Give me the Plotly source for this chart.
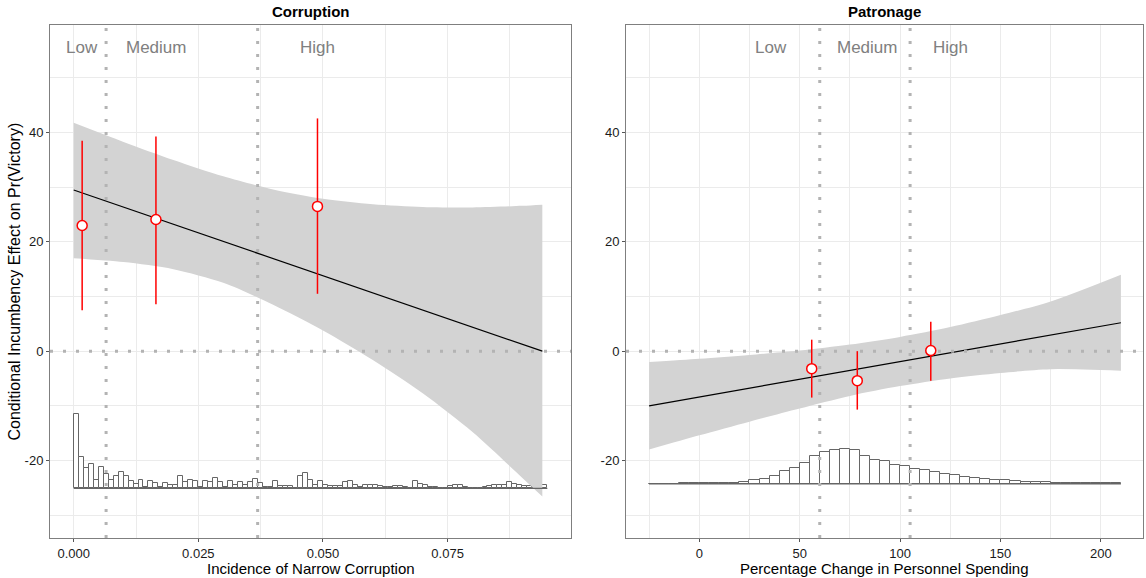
import plotly.graph_objects as go

# ---------------- data ----------------
# Left panel: Corruption
corr_line_x = [0.0, 0.094]
corr_line_y = [29.5, 0.0]
corr_band_x = [0.0, 0.01, 0.02, 0.03, 0.04, 0.05, 0.06, 0.07, 0.08, 0.09, 0.094]
corr_band_hi = [41.8, 38.3, 35.0, 32.0, 29.6, 27.9, 26.9, 26.4, 26.3, 26.6, 26.8]
corr_band_lo = [17.0, 16.3, 15.0, 12.5, 8.5, 3.8, -1.6, -7.7, -14.8, -23.2, -26.6]
corr_pts_x = [0.0017, 0.0165, 0.0489]
corr_pts_y = [23.0, 24.1, 26.5]
corr_pts_lo = [7.5, 8.6, 10.5]
corr_pts_hi = [38.5, 39.3, 42.6]
corr_cuts = [0.0065, 0.0369]
corr_labels = ["Low", "Medium", "High"]
corr_label_x = [0.0017, 0.0166, 0.049]
corr_hist_start = 0.0
corr_hist_width = 0.001
corr_hist_counts = [75, 31, 20, 24, 8, 21, 14, 8, 12, 16, 12, 7, 4, 8, 1, 7, 5, 1, 5, 3, 3, 12, 6, 8, 7, 1, 7, 6, 10, 6, 1, 7,
                    3,
                    6, 3, 6, 9, 5, 1, 1, 7, 2, 2, 2, 0, 12, 15, 8, 3, 7, 3, 2, 2, 2, 6, 7, 3, 1, 3, 3, 3, 2, 1, 1, 2,
                    2, 1, 0, 7, 4, 3, 1, 1, 0, 0, 2, 3, 3, 1, 0, 0, 0, 1, 2, 3, 3, 3, 6, 4, 3, 2, 2, 1, 2, 3]
corr_hist_base = -25.1

# Right panel: Patronage
pat_line_x = [-25, 210]
pat_line_y = [-10.0, 5.2]
pat_band_x = [-25, 0, 25, 50, 75, 100, 125, 150, 175, 210]
pat_band_hi = [-2.0, -1.4, -0.7, 0.1, 1.2, 2.6, 4.4, 6.6, 9.1, 14.0]
pat_band_lo = [-18.0, -15.4, -12.9, -10.5, -8.2, -6.4, -5.0, -4.0, -3.3, -3.6]
pat_pts_x = [56.0, 78.7, 115.3]
pat_pts_y = [-3.2, -5.4, 0.1]
pat_pts_lo = [-8.5, -10.7, -5.4]
pat_pts_hi = [2.1, 0.0, 5.4]
pat_cuts = [60.0, 105.0]
pat_labels = ["Low", "Medium", "High"]
pat_label_x = [35.6, 83.7, 125.0]
pat_hist_start = -25
pat_hist_width = 5
pat_hist_counts = [0.3, 0.3, 0.3, 0.5, 0.5, 0.7, 0.7, 1, 1, 1.7,
                   3.5, 4.5, 8, 12.5, 15.5, 21.3, 28.5, 32.2, 34.3, 35, 34, 28.5, 24.5, 23, 19.2, 17.8,
                   15.2, 13.8, 11.5, 10.2, 9.2, 7.2, 6.3, 5.3, 3.7, 3.7, 3, 2.3, 1.7, 2, 1.3, 1, 1.3, 1, 1,
                   0.7, 0.7]
pat_hist_base = -24.3

hist_scale = 20 / 109.7  # y-units per count

y_tick_vals = [-20, 0, 20, 40]
y_tick_text = ["-20", "0", "20", "40"]
corr_x_ticks = [0.0, 0.025, 0.05, 0.075]
corr_x_text = ["0.000", "0.025", "0.050", "0.075"]
pat_x_ticks = [0, 50, 100, 150, 200]

x_ranges = {"x": [-0.00475, 0.09975], "x2": [-36.5, 221.0]}
y_range = [-34.2, 59.7]

# ---------------- styles ----------------
FONT = "Liberation Sans, Arial, sans-serif"
BAND = "#d3d3d3"
DOT = "#b3b3b3"
RED = "#ff0000"
HIST_LINE = "#666666"
GRID = "#ebebeb"

fig = go.Figure()


def add_panel(xa, ya, line_x, line_y, band_x, hi, lo, px, py, plo, phi, cuts,
              hstart, hwidth, hcounts, hbase):
    # band (smooth edges)
    fig.add_trace(go.Scatter(x=band_x, y=lo, mode="lines", line=dict(width=0, shape="spline", smoothing=0.8),
                             xaxis=xa, yaxis=ya, hoverinfo="skip", showlegend=False))
    fig.add_trace(go.Scatter(x=band_x, y=hi, mode="lines", fill="tonexty", fillcolor=BAND,
                             line=dict(width=0, shape="spline", smoothing=0.8),
                             xaxis=xa, yaxis=ya, hoverinfo="skip", showlegend=False))
    # fitted line
    fig.add_trace(go.Scatter(x=line_x, y=line_y, mode="lines", line=dict(color="black", width=1.2),
                             xaxis=xa, yaxis=ya, showlegend=False))
    # histogram
    centers = [hstart + hwidth * (i + 0.5) for i in range(len(hcounts))]
    heights = [c * hist_scale for c in hcounts]
    fig.add_trace(go.Bar(x=centers, y=heights, base=hbase, width=hwidth,
                         marker=dict(color="white", line=dict(color=HIST_LINE, width=1)),
                         xaxis=xa, yaxis=ya, showlegend=False))
    edge_end = hstart + hwidth * len(hcounts)
    fig.add_trace(go.Scatter(x=[hstart, edge_end], y=[hbase, hbase], mode="lines",
                             line=dict(color=HIST_LINE, width=1.2),
                             xaxis=xa, yaxis=ya, showlegend=False))
    # dotted reference lines
    xr = x_ranges[xa]
    fig.add_trace(go.Scatter(x=xr, y=[0, 0], mode="lines",
                             line=dict(color=DOT, width=3, dash="3px,10px"),
                             xaxis=xa, yaxis=ya, showlegend=False))
    for c in cuts:
        fig.add_trace(go.Scatter(x=[c, c], y=y_range, mode="lines",
                                 line=dict(color=DOT, width=3, dash="3px,10px"),
                                 xaxis=xa, yaxis=ya, showlegend=False))
    # error bars
    for xv, l, h in zip(px, plo, phi):
        fig.add_trace(go.Scatter(x=[xv, xv], y=[l, h], mode="lines",
                                 line=dict(color=RED, width=1.5),
                                 xaxis=xa, yaxis=ya, showlegend=False))
    fig.add_trace(go.Scatter(x=px, y=py, mode="markers",
                             marker=dict(color="white", size=10, line=dict(color=RED, width=1.5)),
                             xaxis=xa, yaxis=ya, showlegend=False))


add_panel("x", "y", corr_line_x, corr_line_y, corr_band_x, corr_band_hi, corr_band_lo,
          corr_pts_x, corr_pts_y, corr_pts_lo, corr_pts_hi, corr_cuts,
          corr_hist_start, corr_hist_width, corr_hist_counts, corr_hist_base)
add_panel("x2", "y2", pat_line_x, pat_line_y, pat_band_x, pat_band_hi, pat_band_lo,
          pat_pts_x, pat_pts_y, pat_pts_lo, pat_pts_hi, pat_cuts,
          pat_hist_start, pat_hist_width, pat_hist_counts, pat_hist_base)

W, H = 1146, 578
left_dom = [50 / W, 571 / W]
right_dom = [626 / W, 1143 / W]
y_dom = [1 - 538 / H, 1 - 25 / H]

axis_common = dict(showline=True, mirror=True, linecolor="#7f7f7f", linewidth=1,
                   ticks="outside", ticklen=3, tickcolor="#555555", tickwidth=1,
                   showgrid=True, gridcolor=GRID, gridwidth=1.1, zeroline=False,
                   tickfont=dict(family=FONT, size=13, color="#1a1a1a"))

fig.update_layout(
    width=W, height=H, margin=dict(l=0, r=0, t=0, b=0),
    paper_bgcolor="white", plot_bgcolor="white", barmode="overlay", bargap=0,
    font=dict(family=FONT),
    xaxis=dict(domain=left_dom, range=x_ranges["x"], tickvals=corr_x_ticks, ticktext=corr_x_text,
               minor=dict(dtick=0.0125, tick0=0, showgrid=True, gridcolor=GRID, gridwidth=0.6, ticks=""),
               anchor="y", **axis_common),
    yaxis=dict(domain=y_dom, range=y_range, tickvals=y_tick_vals, ticktext=y_tick_text,
               minor=dict(dtick=10, tick0=-30, showgrid=True, gridcolor=GRID, gridwidth=0.6, ticks=""),
               anchor="x", **axis_common),
    xaxis2=dict(domain=right_dom, range=x_ranges["x2"], tickvals=pat_x_ticks,
                minor=dict(dtick=25, tick0=0, showgrid=True, gridcolor=GRID, gridwidth=0.6, ticks=""),
                anchor="y2", **axis_common),
    yaxis2=dict(domain=y_dom, range=y_range, tickvals=y_tick_vals, ticktext=y_tick_text,
                minor=dict(dtick=10, tick0=-30, showgrid=True, gridcolor=GRID, gridwidth=0.6, ticks=""),
                anchor="x2", **axis_common),
)

annotations = []
for xa, ya, labels, lx in [("x", "y", corr_labels, corr_label_x), ("x2", "y2", pat_labels, pat_label_x)]:
    for t, xv in zip(labels, lx):
        annotations.append(dict(x=xv, y=55.5, xref=xa, yref=ya, text=t, showarrow=False,
                                font=dict(family=FONT, size=17, color="#808080")))

titles = [("<b>Corruption</b>", left_dom), ("<b>Patronage</b>", right_dom)]
for t, dom in titles:
    annotations.append(dict(x=(dom[0] + dom[1]) / 2, y=1 - 12 / H, xref="paper", yref="paper",
                            xanchor="center", yanchor="middle", text=t, showarrow=False,
                            font=dict(family=FONT, size=15, color="black")))
xtitles = [("Incidence of Narrow Corruption", left_dom), ("Percentage Change in Personnel Spending", right_dom)]
for t, dom in xtitles:
    annotations.append(dict(x=(dom[0] + dom[1]) / 2, y=1 - 568 / H, xref="paper", yref="paper",
                            xanchor="center", yanchor="middle", text=t, showarrow=False,
                            font=dict(family=FONT, size=15, color="black")))
annotations.append(dict(x=14 / W, y=(y_dom[0] + y_dom[1]) / 2, xref="paper", yref="paper",
                        xanchor="center", yanchor="middle", textangle=-90,
                        text="Conditional Incumbency Effect on Pr(Victory)", showarrow=False,
                        font=dict(family=FONT, size=16, color="black")))
fig.update_layout(annotations=annotations)

fig.write_html("out.html")
